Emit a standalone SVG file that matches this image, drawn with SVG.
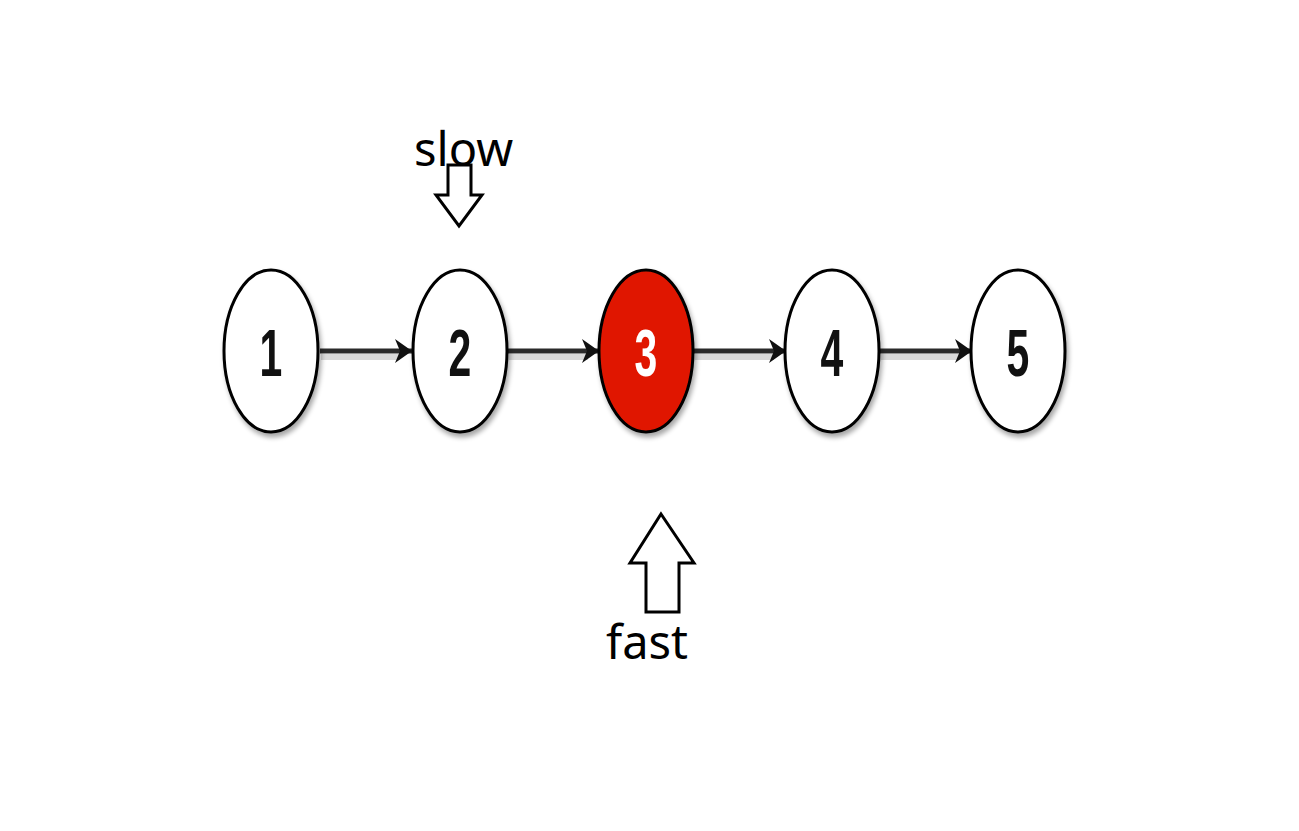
<svg xmlns="http://www.w3.org/2000/svg" width="1299" height="831" viewBox="0 0 1299 831">
<style>
.node{fill:#ffffff;stroke:#000000;stroke-width:3}
.red{fill:#e01500}
.num{font-family:"Liberation Sans",Arial,sans-serif;font-weight:bold;font-size:66px;text-anchor:middle;fill:#111}
.lbl{font-family:"Noto Sans","Open Sans",sans-serif;font-size:47px;fill:#000}
.edge{stroke:#2a2a2a;stroke-width:5;fill:none}
.eshadow{stroke:#000;stroke-opacity:0.15;stroke-width:6;fill:none}
.ptr{fill:#ffffff;stroke:#000000;stroke-width:3;stroke-linejoin:miter}
</style>
<defs>
<filter id="sh" x="-20%" y="-20%" width="150%" height="150%">
<feGaussianBlur in="SourceAlpha" stdDeviation="2.5"/>
<feOffset dx="2" dy="4" result="b"/>
<feComponentTransfer><feFuncA type="linear" slope="0.35"/></feComponentTransfer>
<feMerge><feMergeNode/><feMergeNode in="SourceGraphic"/></feMerge>
</filter>
<marker id="ah" markerWidth="18" markerHeight="28" refX="17" refY="14" orient="auto" markerUnits="userSpaceOnUse">
<path d="M0,2 L17,14 L0,26 L5,14 Z" fill="#111"/>
</marker>
</defs>
<g id="connectors">
<line class="eshadow" x1="321" y1="357" x2="400" y2="357"/>
<line class="eshadow" x1="509" y1="357" x2="588" y2="357"/>
<line class="eshadow" x1="695" y1="357" x2="774" y2="357"/>
<line class="eshadow" x1="881" y1="357" x2="960" y2="357"/>
<line class="edge" x1="320" y1="351" x2="412" y2="351" marker-end="url(#ah)"/>
<line class="edge" x1="508" y1="351" x2="599" y2="351" marker-end="url(#ah)"/>
<line class="edge" x1="694" y1="351" x2="786" y2="351" marker-end="url(#ah)"/>
<line class="edge" x1="880" y1="351" x2="972" y2="351" marker-end="url(#ah)"/>
</g>
<g id="node1"><ellipse class="node" cx="271" cy="351" rx="47" ry="81" filter="url(#sh)"/><text class="num" transform="translate(271,376) scale(0.62,1)">1</text></g>
<g id="node2"><ellipse class="node" cx="460" cy="351" rx="47" ry="81" filter="url(#sh)"/><text class="num" transform="translate(460,376) scale(0.62,1)">2</text></g>
<g id="node3"><ellipse class="node red" cx="646" cy="351" rx="47" ry="81" filter="url(#sh)"/><text class="num" style="fill:#ffffff" transform="translate(646,376) scale(0.62,1)">3</text></g>
<g id="node4"><ellipse class="node" cx="832" cy="351" rx="47" ry="81" filter="url(#sh)"/><text class="num" transform="translate(832,376) scale(0.62,1)">4</text></g>
<g id="node5"><ellipse class="node" cx="1018" cy="351" rx="47" ry="81" filter="url(#sh)"/><text class="num" transform="translate(1018,376) scale(0.62,1)">5</text></g>
<g id="slow">
<text class="lbl" x="414" y="166">slow</text>
<path class="ptr" d="M448,165 L471,165 L471,195 L482,195 L459,226 L436,195 L448,195 Z"/>
</g>
<g id="fast">
<path class="ptr" d="M661,514 L694,563 L679,563 L679,612 L646,612 L646,563 L630,563 Z"/>
<text class="lbl" x="606" y="659">fast</text>
</g>
</svg>
